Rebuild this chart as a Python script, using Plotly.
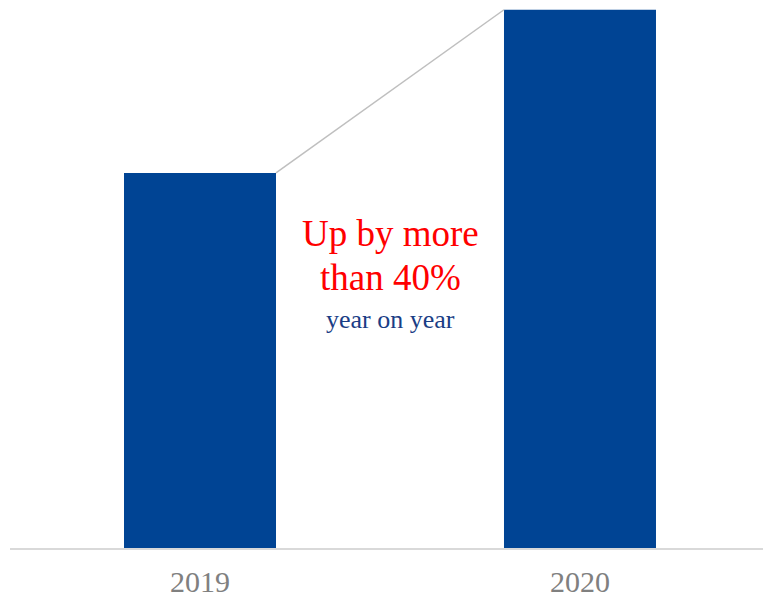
import plotly.graph_objects as go

years = ["2019", "2020"]
values = [100, 143.5]
headline = ["Up by more", "than 40%"]
subline = "year on year"

BAR_W = 0.4
bar_color = "#004494"

fig = go.Figure()
fig.add_trace(go.Bar(x=[0, 1], y=values, width=BAR_W, marker_color=bar_color,
                     marker_line_width=0, showlegend=False, hoverinfo="skip"))
# connector between bar tops
fig.add_trace(go.Scatter(x=[0 + BAR_W / 2, 1 - BAR_W / 2], y=values, mode="lines",
                         line=dict(color="#bfbfbf", width=1.5), showlegend=False,
                         hoverinfo="skip"))

serif = "Liberation Serif, Times New Roman, serif"
fig.add_annotation(x=0.5, xref="x", y=0.5733, yref="paper", text=headline[0],
                   showarrow=False, font=dict(family=serif, size=37, color="#ff0000"),
                   xanchor="center", yanchor="middle")
fig.add_annotation(x=0.5, xref="x", y=0.4931, yref="paper", text=headline[1],
                   showarrow=False, font=dict(family=serif, size=37, color="#ff0000"),
                   xanchor="center", yanchor="middle")
fig.add_annotation(x=0.5, xref="x", y=0.4162, yref="paper", text=subline,
                   showarrow=False, font=dict(family=serif, size=26, color="#1a3d85"),
                   xanchor="center", yanchor="middle")

fig.update_layout(
    width=763, height=599,
    margin=dict(l=10, r=0, t=0, b=51),
    plot_bgcolor="white", paper_bgcolor="white",
    xaxis=dict(range=[-0.5, 1.4816], tickvals=[0, 1], ticktext=years,
               showgrid=False, zeroline=False, showline=True,
               linecolor="#d9d9d9", linewidth=1.5, automargin=False,
               tickfont=dict(family=serif, size=30, color="#808080"),
               ticks="", ticklabelstandoff=6),
    yaxis=dict(range=[0, 146.1], visible=False, automargin=False),
)
fig.write_html("out.html")
